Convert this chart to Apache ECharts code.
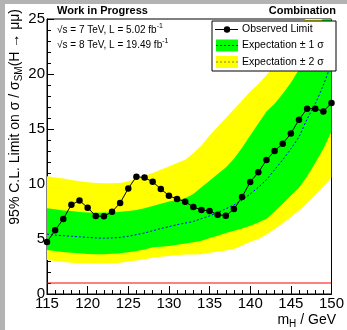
<!DOCTYPE html>
<html>
<head>
<meta charset="utf-8">
<script src="https://cdn.jsdelivr.net/npm/echarts@6/dist/echarts.min.js"></script>
<style>
html,body{margin:0;padding:0;background:#fff;}
#c{width:347px;height:330px;}
</style>
</head>
<body>
<div id="c"></div>
<script>
const masses = [115,116,117,118,119,120,121,122,123,124,125,126,127,128,129,130,131,132,133,134,135,136,137,138,139,140,141,142,143,144,145,146,147,148,149,150];
const observed = [4.73,5.79,6.82,8.12,8.49,7.85,7.09,7.06,7.48,8.27,9.6,10.67,10.58,10.2,9.55,8.94,8.64,8.39,7.91,7.64,7.55,7.21,7.12,7.72,8.82,10.18,11.06,12.18,13.0,13.67,14.58,15.85,16.85,16.85,16.6,17.36];
const expMedian = [5.45,5.35,5.3,5.25,5.2,5.15,5.1,5.08,5.1,5.15,5.25,5.4,5.55,5.75,5.95,6.12,6.3,6.45,6.6,6.85,7.1,7.4,7.75,8.1,8.55,9.1,9.7,10.4,11.3,12.2,13.2,14.3,15.9,17.3,19.0,21.0];
const exp1Up = [7.8,7.7,7.6,7.55,7.45,7.4,7.38,7.4,7.42,7.48,7.55,7.64,7.8,8.0,8.2,8.4,8.55,8.7,9.1,9.7,10.3,10.9,11.5,12.3,13.3,14.4,15.5,16.6,17.3,18.2,19.2,20.4,21.8,23.4,25.2,27.2];
const exp1Down = [4.0,3.9,3.82,3.76,3.7,3.64,3.62,3.62,3.65,3.7,3.8,3.9,4.05,4.24,4.3,4.36,4.48,4.6,4.7,4.85,5.1,5.3,5.55,5.75,5.95,6.2,6.5,6.85,7.5,8.2,8.95,9.65,10.7,11.9,13.2,14.8];
const exp2Up = [10.7,10.6,10.5,10.36,10.25,10.15,10.1,10.06,10.06,10.1,10.25,10.5,10.75,11.0,11.3,11.6,11.9,12.2,12.8,13.5,14.4,15.2,16.0,16.8,17.6,18.4,19.1,19.9,20.8,21.8,22.8,24.0,25.3,26.6,28.0,29.5];
const exp2Down = [3.1,3.0,2.9,2.85,2.8,2.79,2.77,2.77,2.8,2.85,2.95,3.05,3.15,3.3,3.38,3.45,3.52,3.6,3.6,3.62,3.75,3.85,3.95,4.1,4.4,4.75,5.0,5.4,5.9,6.4,7.0,7.6,8.3,9.0,9.8,10.6];
const smLine = 1;
const xTicks = {min:115, max:150, step:5};
const yTicks = {min:0, max:25, step:5};

const FONT = 'Liberation Sans, Arial, Helvetica, sans-serif';
const pairs = (arr) => masses.map((m,i)=>[m, arr[i]]);

function bandSeries(lo, hi, color, z){
  return {
    type:'custom', silent:true, z:z,
    data:[[masses[0], lo[0]]],
    renderItem:function(params, api){
      const pts = [];
      for (let i=0;i<masses.length;i++) pts.push(api.coord([masses[i], hi[i]]));
      for (let i=masses.length-1;i>=0;i--) pts.push(api.coord([masses[i], lo[i]]));
      const cs = params.coordSys;
      return {
        type:'group',
        clipPath:{type:'rect',shape:{x:cs.x,y:cs.y,width:cs.width,height:cs.height}},
        children:[{type:'polygon',shape:{points:pts},style:{fill:color,stroke:null}}]
      };
    }
  };
}

const LZ = 100;
const chart = echarts.init(document.getElementById('c'), null, {renderer:'canvas'});
chart.setOption({
  animation:false,
  backgroundColor:'#fff',
  grid:{left:47,right:12,top:19,bottom:36,show:true,borderColor:'#000',borderWidth:1},
  xAxis:{type:'value',min:xTicks.min,max:xTicks.max,interval:xTicks.step,
    axisLine:{lineStyle:{color:'#000',width:1}},
    axisTick:{inside:true,length:8,lineStyle:{color:'#000'}},
    minorTick:{show:true,splitNumber:5,length:4,lineStyle:{color:'#000'}},
    splitLine:{show:false},
    axisLabel:{color:'#000',fontSize:15,fontFamily:FONT,margin:2}},
  yAxis:{type:'value',min:yTicks.min,max:yTicks.max,interval:yTicks.step,
    axisLine:{lineStyle:{color:'#000',width:1}},
    axisTick:{inside:true,length:7,lineStyle:{color:'#000'}},
    minorTick:{show:true,splitNumber:5,length:4,lineStyle:{color:'#000'}},
    splitLine:{show:false},
    axisLabel:{color:'#000',fontSize:15,fontFamily:FONT,margin:2}},
  series:[
    bandSeries(exp2Down, exp2Up, '#ffff00', 1),
    bandSeries(exp1Down, exp1Up, '#00ff00', 2),
    {type:'line',data:[[xTicks.min,smLine],[xTicks.max,smLine]],symbol:'none',lineStyle:{color:'#ff0000',width:1},silent:true,z:3},
    {type:'line',data:pairs(expMedian),symbol:'none',smooth:0.3,lineStyle:{color:'#0000ff',width:1,type:[2,2]},silent:true,z:3},
    {type:'line',data:pairs(observed),symbol:'circle',symbolSize:6.5,itemStyle:{color:'#000'},lineStyle:{color:'#000',width:1},silent:true,z:4}
  ],
  graphic:[
    {type:'rect',z:LZ,shape:{x:0,y:0,width:347,height:4},style:{fill:'#b3b3b3'},silent:true},
    {type:'rect',z:LZ,shape:{x:0,y:0,width:5,height:330},style:{fill:'#b3b3b3'},silent:true},
    {type:'text',z:LZ,x:57,y:11,style:{text:'Work in Progress',font:'bold 11px '+FONT,fill:'#000',verticalAlign:'middle'}},
    {type:'text',z:LZ,x:336,y:11,style:{text:'Combination',font:'bold 11px '+FONT,fill:'#000',align:'right',verticalAlign:'middle'}},
    {type:'text',z:LZ,x:57,y:30,style:{text:'{a|√s = 7 TeV, L = 5.02 fb}{p|-1}',verticalAlign:'middle',
      rich:{a:{fontSize:10,fontFamily:FONT,fill:'#000',lineHeight:14},p:{fontSize:7,fontFamily:FONT,fill:'#000',lineHeight:8,verticalAlign:'top'}}}},
    {type:'text',z:LZ,x:57,y:45,style:{text:'{a|√s = 8 TeV, L = 19.49 fb}{p|-1}',verticalAlign:'middle',
      rich:{a:{fontSize:10,fontFamily:FONT,fill:'#000',lineHeight:14},p:{fontSize:7,fontFamily:FONT,fill:'#000',lineHeight:8,verticalAlign:'top'}}}},
    {type:'text',z:LZ,x:15,y:9,rotation:Math.PI/2,style:{text:'{a|95% C.L. Limit on σ / σ}{s|SM}{a|(H → μμ)}',align:'right',verticalAlign:'middle',
      rich:{a:{fontSize:14,fontFamily:FONT,fill:'#000',lineHeight:18},s:{fontSize:10,fontFamily:FONT,fill:'#000',lineHeight:10,verticalAlign:'bottom'}}}},
    {type:'text',z:LZ,x:336,y:320,style:{text:'{a|m}{s|H}{a| / GeV}',align:'right',verticalAlign:'middle',
      rich:{a:{fontSize:14,fontFamily:FONT,fill:'#000',lineHeight:18},s:{fontSize:10,fontFamily:FONT,fill:'#000',lineHeight:10,verticalAlign:'bottom'}}}},
    {type:'rect',z:LZ,shape:{x:212,y:21,width:124,height:50},style:{fill:'#fff',stroke:'#000',lineWidth:1}},
    {type:'line',z:LZ+1,shape:{x1:215,y1:29.5,x2:238,y2:29.5},style:{stroke:'#000',lineWidth:1}},
    {type:'circle',z:LZ+1,shape:{cx:227,cy:29.5,r:3.2},style:{fill:'#000'}},
    {type:'text',z:LZ+1,x:242,y:29.5,style:{text:'Observed Limit',font:'10.5px '+FONT,fill:'#000',verticalAlign:'middle'}},
    {type:'rect',z:LZ+1,shape:{x:216,y:39.5,width:22,height:12},style:{fill:'#00ff00'}},
    {type:'line',z:LZ+2,shape:{x1:216,y1:45.5,x2:238,y2:45.5},style:{stroke:'#0000ff',lineWidth:1,lineDash:[2,2]}},
    {type:'text',z:LZ+1,x:242,y:45.5,style:{text:'Expectation ± 1 σ',font:'10.5px '+FONT,fill:'#000',verticalAlign:'middle'}},
    {type:'rect',z:LZ+1,shape:{x:216,y:56,width:22,height:12},style:{fill:'#ffff00'}},
    {type:'line',z:LZ+2,shape:{x1:216,y1:62,x2:238,y2:62},style:{stroke:'#808040',lineWidth:1,lineDash:[2,2]}},
    {type:'text',z:LZ+1,x:242,y:62,style:{text:'Expectation ± 2 σ',font:'10.5px '+FONT,fill:'#000',verticalAlign:'middle'}}
  ]
});
</script>
</body>
</html>
